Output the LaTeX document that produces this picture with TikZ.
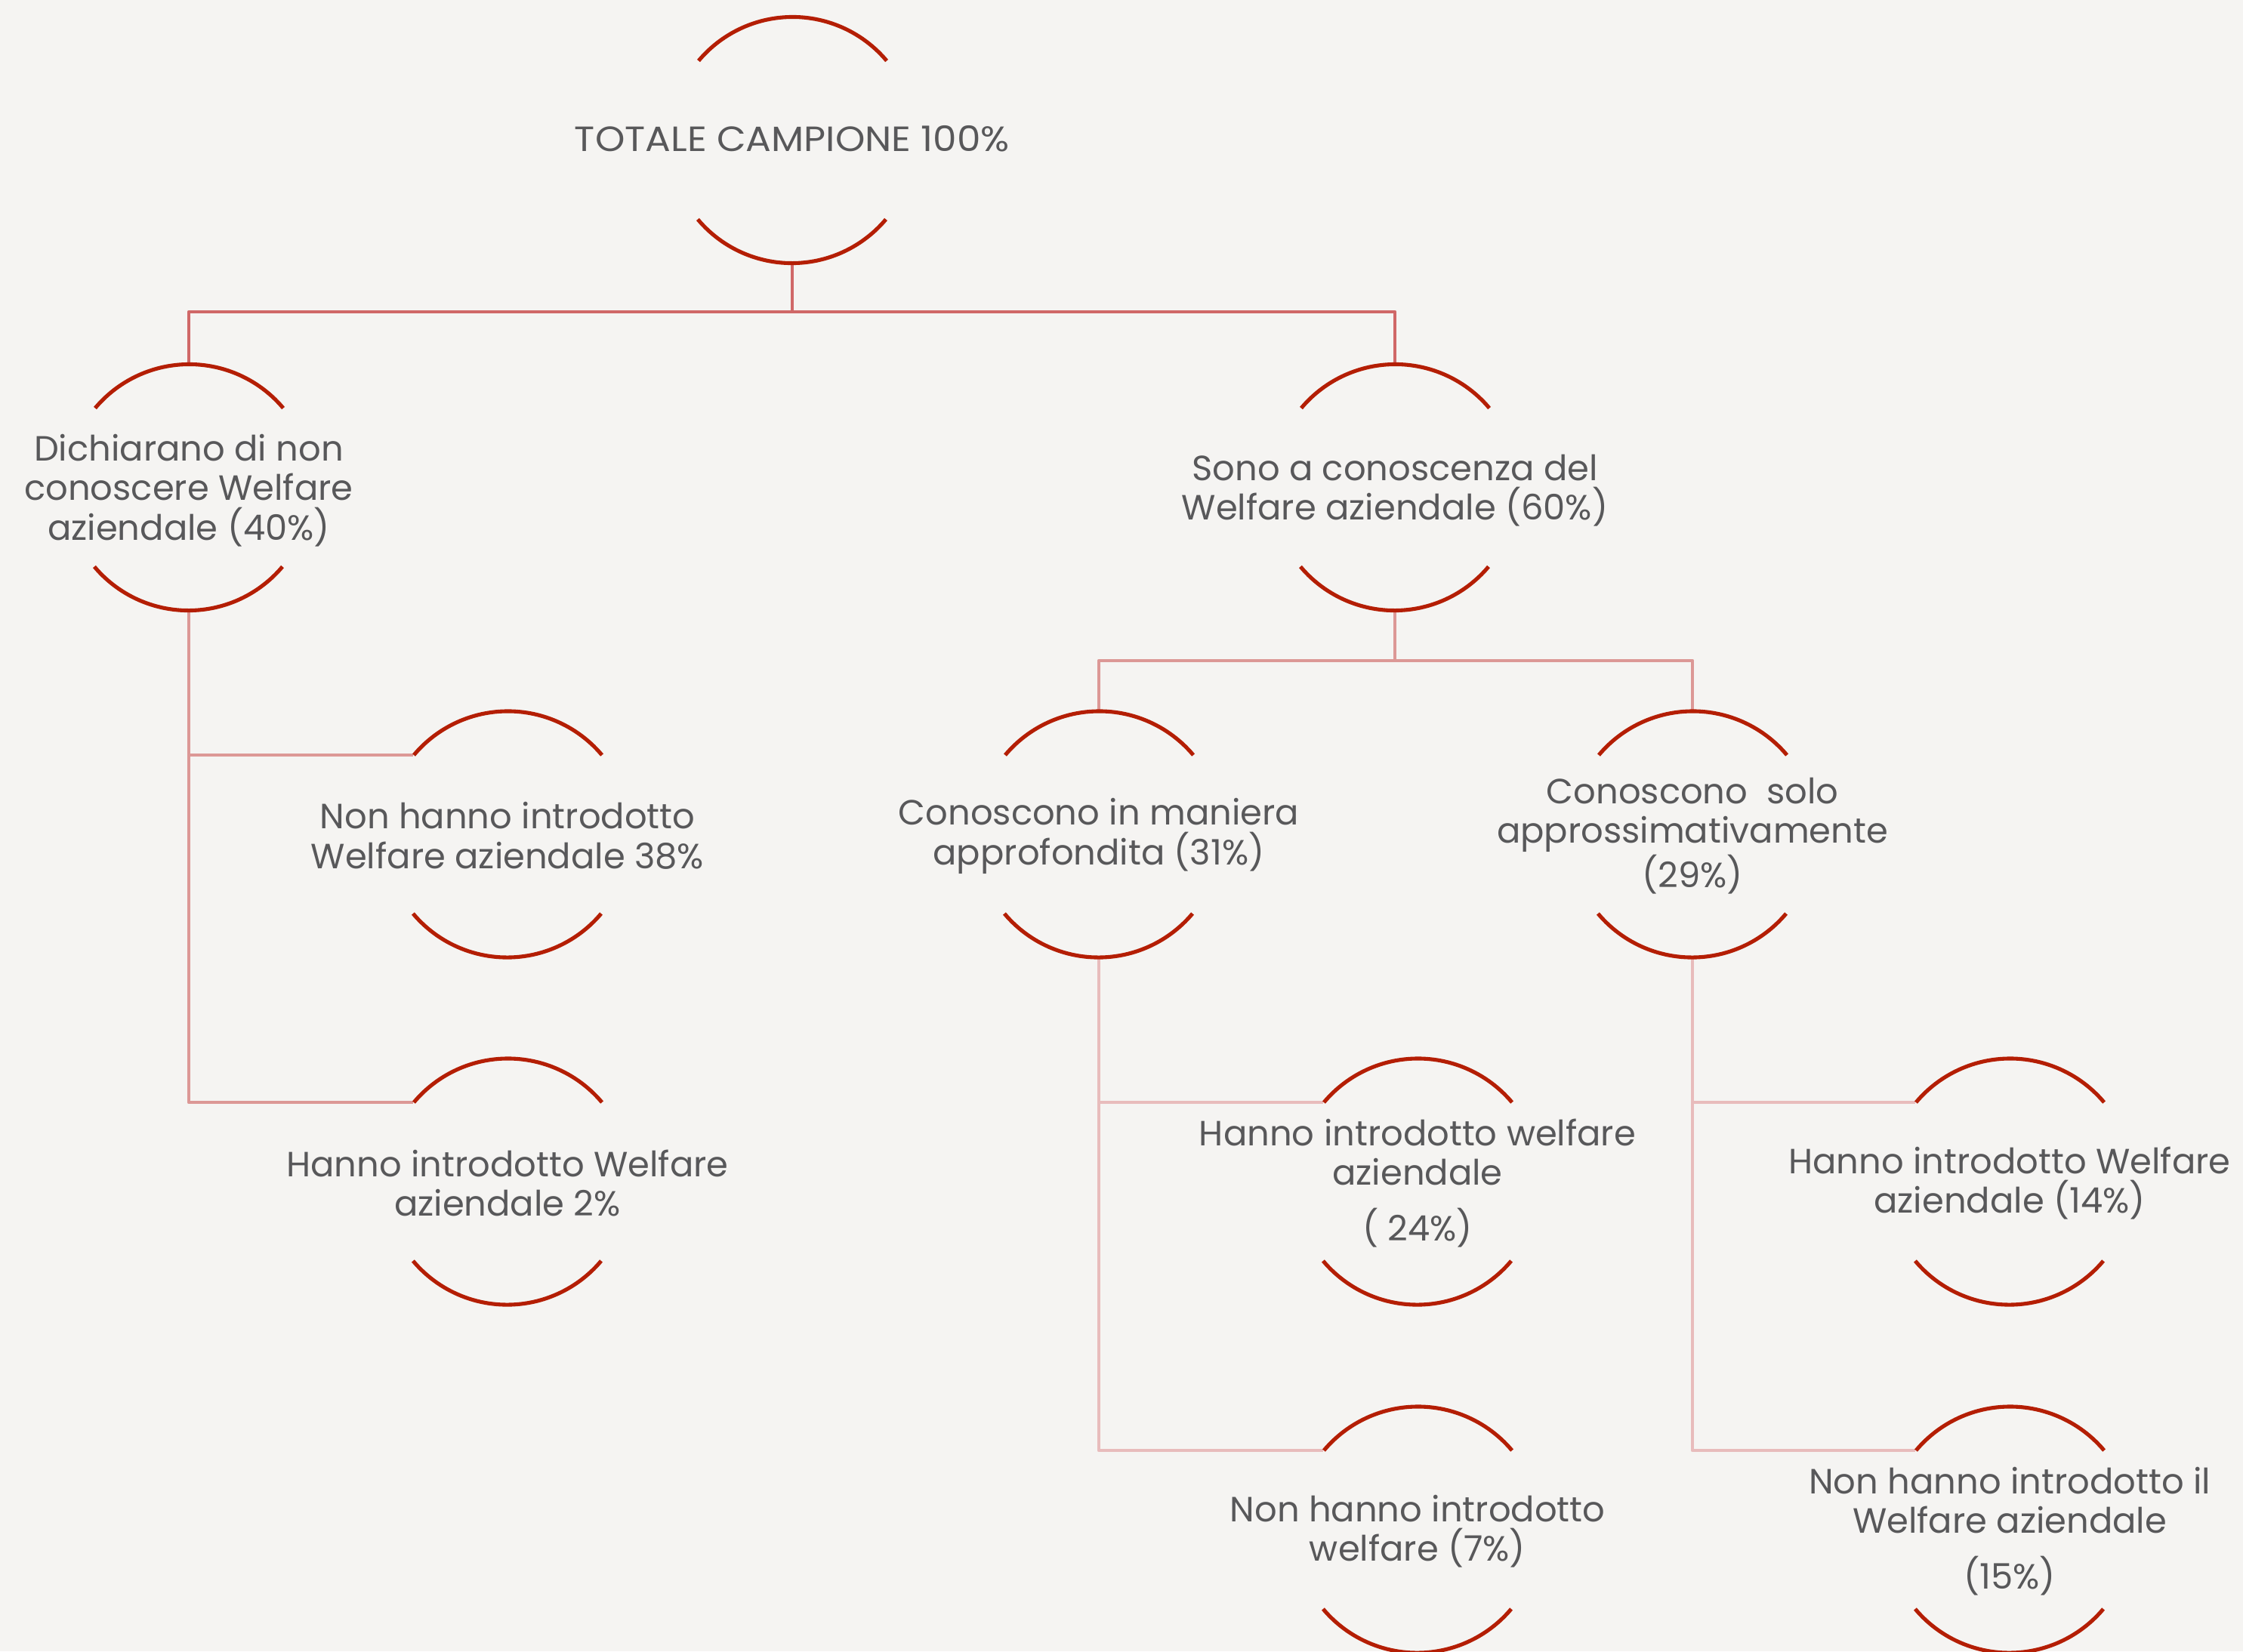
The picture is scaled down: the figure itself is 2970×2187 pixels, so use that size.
\documentclass[tikz,border=0pt]{standalone}
\usepackage{fontspec}
\setmainfont{Poppins}
\newfontfamily\titlefont[FakeStretch=1.08]{Poppins}
\definecolor{bgc}{RGB}{245,244,242}
\definecolor{arcc}{RGB}{180,30,4}
\definecolor{conA}{RGB}{208,104,104}
\definecolor{conB}{RGB}{220,152,150}
\definecolor{conC}{RGB}{232,188,188}
\definecolor{txtc}{RGB}{88,88,90}
\tikzset{
  ring/.style={circle,minimum size=3.25cm,inner sep=0pt,draw=none},
  lbl/.style={align=center,text=txtc,font=\fontsize{13.2}{15}\selectfont,inner sep=0pt,yshift=-0.02cm},
  arcline/.style={draw=arcc,line width=1.45pt},
  linkA/.style={draw=conA,line width=1.3pt},
  linkB/.style={draw=conB,line width=1.3pt},
  linkC/.style={draw=conC,line width=1.3pt},
}
\newcommand{\ringarcs}[1]{%
  \draw[arcline] (#1.40) arc[start angle=40,end angle=140,radius=1.625cm];
  \draw[arcline] (#1.220) arc[start angle=220,end angle=320,radius=1.625cm];}
\begin{document}
\begin{tikzpicture}[x=0.01cm,y=0.01cm]
\fill[bgc] (0,0) rectangle (2970,-2187);
\useasboundingbox (0,0) rectangle (2970,-2187);
% nodes
\node[ring] (T) at (1049,-185.5) {};
\node[ring] (L) at (250,-645.5) {};
\node[ring] (R) at (1847,-645.5) {};
\node[ring] (LA) at (672,-1105) {};
\node[ring] (LB) at (672,-1565) {};
\node[ring] (RA) at (1455,-1105) {};
\node[ring] (RB) at (2241,-1105) {};
\node[ring] (RAA) at (1877,-1565) {};
\node[ring] (RAB) at (1877,-2026) {};
\node[ring] (RBA) at (2661,-1565) {};
\node[ring] (RBB) at (2661,-2026) {};
% labels
\node[lbl,font=\titlefont\fontsize{13.2}{15}\selectfont,yshift=0.04cm] (Tt) at (T) {TOTALE CAMPIONE 100\%};
\node[lbl,yshift=-0.02cm] (Lt) at (L) {Dichiarano di non\\conoscere Welfare\\aziendale (40\%)};
\node[lbl,yshift=-0.02cm] (Rt) at (R) {Sono a conoscenza del\\Welfare aziendale (60\%)};
\node[lbl] (LAt) at (LA) {Non hanno introdotto\\Welfare aziendale 38\%};
\node[lbl] (LBt) at (LB) {Hanno introdotto Welfare\\aziendale 2\%};
\node[lbl] (RAt) at (RA) {Conoscono in maniera\\approfondita (31\%)};
\node[lbl] (RBt) at (RB) {Conoscono\ \ solo\\approssimativamente\\(29\%)};
\node[lbl] (RAAt) at (RAA) {Hanno introdotto welfare\\aziendale\\[6pt]( 24\%)};
\node[lbl] (RABt) at (RAB) {Non hanno introdotto\\welfare (7\%)};
\node[lbl] (RBAt) at (RBA) {Hanno introdotto Welfare\\aziendale (14\%)};
\node[lbl] (RBBt) at (RBB) {Non hanno introdotto il\\Welfare aziendale\\[6pt](15\%)};
% connectors
\coordinate (b1) at (1049,-413);
\coordinate (b2) at (1847,-875);
\draw[linkA] (T.south) -- (b1);
\draw[linkA,line join=round] (L.north) |- (b1) -| (R.north);
\draw[linkB,line join=round] (L.south) |- (LB.140);
\draw[linkB] (L.south |- LA.140) -- (LA.140);
\draw[linkB] (R.south) -- (b2);
\draw[linkB,line join=round] (RA.north) |- (b2) -| (RB.north);
\draw[linkC,line join=round] (RA.south) |- (RAB.140);
\draw[linkC] (RA.south |- RAA.140) -- (RAA.140);
\draw[linkC,line join=round] (RB.south) |- (RBB.140);
\draw[linkC] (RB.south |- RBA.140) -- (RBA.140);
% arcs
\ringarcs{T}\ringarcs{L}\ringarcs{R}\ringarcs{LA}\ringarcs{LB}
\ringarcs{RA}\ringarcs{RB}\ringarcs{RAA}\ringarcs{RAB}\ringarcs{RBA}\ringarcs{RBB}
\end{tikzpicture}
\end{document}
